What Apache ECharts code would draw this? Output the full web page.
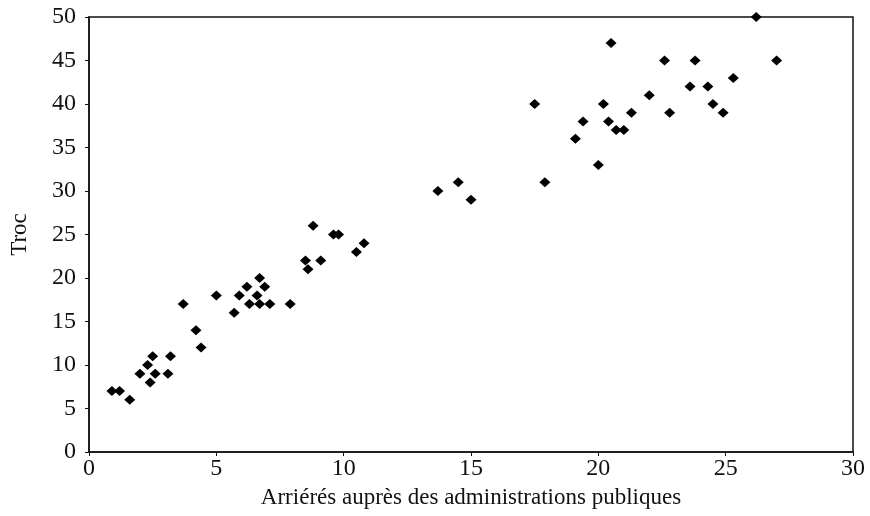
<!DOCTYPE html>
<html>
<head>
<meta charset="utf-8">
<script src="https://cdn.jsdelivr.net/npm/echarts@6/dist/echarts.min.js"></script>
<style>
  html, body { margin: 0; padding: 0; background: #fff; }
  #chart { width: 870px; height: 516px; }
</style>
</head>
<body>
<div id="chart"></div>
<script>
// arriérés (x) et troc (y)
var arrieres = [0.9, 1.2, 1.6, 2.0, 2.3, 2.4, 2.5, 2.6, 3.1, 3.2,
  3.7, 4.2, 4.4, 5.0, 5.7, 5.9, 6.2, 6.3, 6.7, 6.6,
  6.7, 6.9, 7.1, 7.9, 8.5, 8.6, 9.1, 8.8, 9.6, 9.8,
  10.5, 10.8, 13.7, 14.5, 15.0, 17.9, 20.0, 17.5, 19.1, 19.4,
  20.2, 20.4, 20.5, 20.7, 21.0, 21.3, 22.0, 22.6, 22.8, 23.6,
  23.8, 24.3, 24.5, 24.9, 25.3, 26.2, 27.0];
var troc = [7, 7, 6, 9, 10, 8, 11, 9, 9, 11,
  17, 14, 12, 18, 16, 18, 19, 17, 20, 18,
  17, 19, 17, 17, 22, 21, 22, 26, 25, 25,
  23, 24, 30, 31, 29, 31, 33, 40, 36, 38,
  40, 38, 47, 37, 37, 39, 41, 45, 39, 42,
  45, 42, 40, 39, 43, 50, 45];
var xTitle = "Arriérés auprès des administrations publiques";
var yTitle = "Troc";

var points = arrieres.map(function (x, i) { return [x, troc[i]]; });
var font = "Liberation Serif";

var chart = echarts.init(document.getElementById("chart"));
chart.setOption({
  animation: false,
  grid: {
    left: 88, right: 17, top: 17, bottom: 64,
    show: true, borderColor: "#111", borderWidth: 1.5
  },
  xAxis: {
    type: "value", min: 0, max: 30, interval: 5,
    name: xTitle, nameLocation: "middle", nameGap: 34,
    nameTextStyle: { fontFamily: font, fontSize: 23, color: "#111" },
    axisLine: { lineStyle: { color: "#111", width: 1.5 } },
    axisTick: { show: true, length: 4, lineStyle: { color: "#111" } },
    axisLabel: { fontFamily: font, fontSize: 24, color: "#111", margin: 5 },
    splitLine: { show: false }
  },
  yAxis: {
    type: "value", min: 0, max: 50, interval: 5,
    name: yTitle, nameLocation: "middle", nameGap: 58,
    nameTextStyle: { fontFamily: font, fontSize: 23, color: "#111" },
    axisLine: { show: true, lineStyle: { color: "#111", width: 1.5 } },
    axisTick: { show: true, length: 4, lineStyle: { color: "#111" } },
    axisLabel: { fontFamily: font, fontSize: 24, color: "#111", margin: 13 },
    splitLine: { show: false }
  },
  series: [{
    type: "scatter",
    data: points,
    symbol: "diamond",
    symbolSize: [11, 10],
    itemStyle: { color: "#000", opacity: 1 }
  }]
});
</script>
</body>
</html>
